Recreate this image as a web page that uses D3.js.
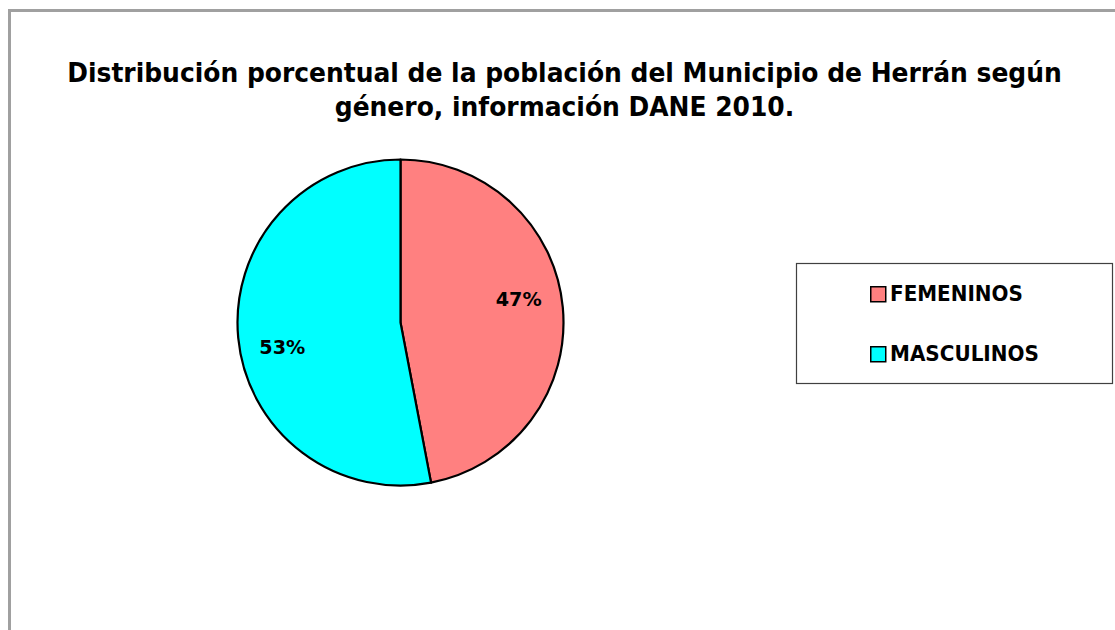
<!DOCTYPE html>
<html><head><meta charset="utf-8">
<script src="https://cdn.jsdelivr.net/npm/d3@7"></script>
<style>body{margin:0;background:#fff}svg{display:block}</style>
</head><body>
<svg id="c" width="1115" height="630"></svg>
<script>
const categories = ["FEMENINOS", "MASCULINOS"];
const values = [47, 53];
const colors = ["#FF8080", "#00FFFF"];
const titleLines = ["Distribución porcentual de la población del Municipio de Herrán según", "género, información DANE 2010."];

const svg = d3.select("#c");
const FONT = "'DejaVu Sans', Verdana, sans-serif";

// outer frame
svg.append("rect").attr("x", 9.5).attr("y", 10.5).attr("width", 1130).attr("height", 650)
  .attr("fill", "#fff").attr("stroke", "#a0a0a0").attr("stroke-width", 3);

// helper: horizontally condense a text (Tahoma-like width) using a scale transform
function condensed(parent, x, y, str, size, targetW, anchor) {
  const gg = parent.append("g");
  const t = gg.append("text").attr("x", 0).attr("y", 0)
    .attr("text-anchor", anchor).attr("font-family", FONT).attr("font-weight", "bold")
    .attr("font-size", size).attr("fill", "#000").text(str);
  const w = t.node().getComputedTextLength();
  const sx = targetW / w;
  gg.attr("transform", `translate(${x},${y}) scale(${sx},1)`);
  return sx;
}

// title
const tl = svg.append("g");
const sx = condensed(tl, 564.5, 81.5, titleLines[0], 27, 995, "middle");
{
  const gg = tl.append("g").attr("transform", `translate(564.5,115.5) scale(${sx},1)`);
  gg.append("text").attr("text-anchor", "middle").attr("font-family", FONT).attr("font-weight", "bold")
    .attr("font-size", 27).attr("fill", "#000").text(titleLines[1]);
}

// pie
const cx = 400.5, cy = 322.5, r = 163;
const pie = d3.pie().sort(null).value(d => d)(values);
const arc = d3.arc().innerRadius(0).outerRadius(r);
const g = svg.append("g").attr("transform", `translate(${cx},${cy})`);
g.selectAll("path").data(pie).join("path")
  .attr("d", arc).attr("fill", (d, i) => colors[i])
  .attr("stroke", "#000").attr("stroke-width", 2.2).attr("stroke-linejoin", "round");

// label placement: slightly rotated back from the slice mid-angle, as in the source
const labelR = r * 0.74, labelShift = -6 * Math.PI / 180;
pie.forEach(d => {
  const a = (d.startAngle + d.endAngle) / 2 + labelShift;
  const gg = g.append("g");
  const t = gg.append("text").attr("text-anchor", "middle").attr("dy", "0.36em")
    .attr("font-family", FONT).attr("font-weight", "bold").attr("font-size", 20)
    .text(d.data + "%");
  const s = 46 / t.node().getComputedTextLength();
  gg.attr("transform", `translate(${labelR * Math.sin(a)},${-labelR * Math.cos(a)}) scale(${s},1)`);
});

// legend
const lg = svg.append("g");
lg.append("rect").attr("x", 796.5).attr("y", 263.5).attr("width", 316).attr("height", 120)
  .attr("fill", "#fff").attr("stroke", "#404040").attr("stroke-width", 1.2);
categories.forEach((c, i) => {
  const it = lg.append("g").attr("transform", `translate(870,${286 + i * 60})`);
  it.append("rect").attr("x", 0.75).attr("y", 0.75).attr("width", 15).attr("height", 15)
    .attr("fill", colors[i]).attr("stroke", "#000").attr("stroke-width", 1.5);
  condensed(it, 20, 15, c, 21.5, i === 0 ? 133 : 149, "start");
});
</script>
</body></html>
